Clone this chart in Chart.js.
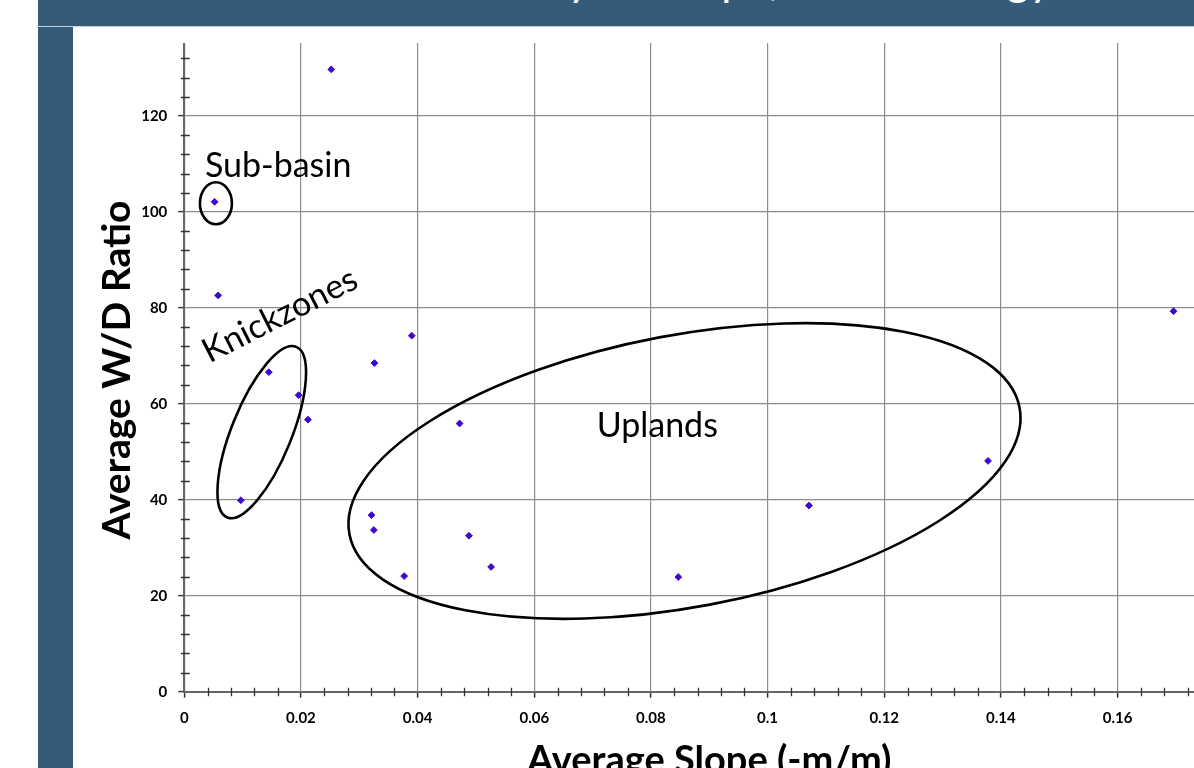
<!DOCTYPE html>
<html>
<head>
<meta charset="utf-8">
<script src="https://cdn.jsdelivr.net/npm/chart.js@4.4.1/dist/chart.umd.min.js"></script>
<style>
  html, body { margin: 0; padding: 0; background: #fff; overflow: hidden; width: 1194px; height: 768px; }
  #wrap { position: absolute; left: 0; top: 0; width: 1260px; height: 800px; }
  .blk { position: absolute; }
  #title { position: absolute; left: 38px; top: 0; width: 1156px; height: 26px; overflow: hidden; background: #345c78; border-bottom: 1px solid #c9d2da; }
  #title span { position: absolute; right: 142px; top: -48px; line-height: 1; white-space: nowrap; color: #fff; font: 44px Lato; }
</style>
</head>
<body>
<div id="wrap"><canvas id="c" width="1260" height="800"></canvas></div>
<div class="blk" style="left:0;top:0;width:38px;height:768px;background:#fff"></div>
<div class="blk" style="left:38px;top:0;width:35px;height:768px;background:#345c78"></div>
<div class="blk" style="left:73px;top:27px;width:1121px;height:16px;background:#fff"></div>
<div id="title"><span>Channel Geometry vs. Slope, and Lithology</span></div>
<script>
// scatter data
const slope = [0.0252, 0.0052, 0.0058, 0.0145, 0.0196, 0.0212, 0.0097, 0.0326, 0.0390, 0.0472,
               0.0321, 0.0325, 0.0377, 0.0488, 0.0526, 0.0847, 0.1071, 0.1378, 0.1696];
const wdRatio = [129.7, 102.1, 82.6, 66.6, 61.8, 56.7, 39.9, 68.5, 74.2, 55.9,
                 36.8, 33.7, 24.1, 32.5, 26.0, 23.9, 38.8, 48.1, 79.3];

const xTickLabels = ['0', '0.02', '0.04', '0.06', '0.08', '0.1', '0.12', '0.14', '0.16', '0.18'];
const yTickLabels = ['0', '20', '40', '60', '80', '100', '120', '140'];

const groupNames = ['Sub-basin', 'Knickzones', 'Uplands'];

// annotation placement (data units for anchors, pixels for radii)
const groupEllipses = [
  { x: 0.00542, y: 101.8, rx: 16, ry: 21, rot: 0 },
  { x: 0.01328, y: 54.1, rx: 92, ry: 30, rot: -68 },
  { x: 0.08576, y: 46.0, rx: 341, ry: 136, rot: -10.7 }
];
const groupLabels = [
  { x: 0.00354, y: 107.3, rot: 0 },
  { x: 0.00430, y: 68.4, rot: -27 },
  { x: 0.0707, y: 53.1, rot: 0 }
];

const annotations = {
  id: 'annotations',
  afterDraw(chart) {
    const { ctx, scales: { x, y } } = chart;
    const x0 = x.getPixelForValue(0);
    const y0 = y.getPixelForValue(0);
    ctx.save();

    // minor ticks crossing the axes
    ctx.strokeStyle = '#333';
    ctx.lineWidth = 1.3;
    ctx.beginPath();
    for (let i = 1; i * 0.004 < 0.18; i++) {
      if (i % 5 === 0) continue;
      const px = Math.round(x.getPixelForValue(i * 0.004)) + 0.5;
      ctx.moveTo(px, y0 - 4);
      ctx.lineTo(px, y0 + 4.5);
    }
    for (let i = 1; i * 4 < 140; i++) {
      if (i % 5 === 0) continue;
      const py = Math.round(y.getPixelForValue(i * 4)) + 0.5;
      ctx.moveTo(x0 - 3.5, py);
      ctx.lineTo(x0 + 5.5, py);
    }
    ctx.stroke();

    // group outlines
    ctx.strokeStyle = '#000';
    ctx.lineWidth = 2.6;
    groupEllipses.forEach(e => {
      ctx.beginPath();
      ctx.ellipse(x.getPixelForValue(e.x), y.getPixelForValue(e.y), e.rx, e.ry,
                  e.rot * Math.PI / 180, 0, Math.PI * 2);
      ctx.stroke();
    });

    // group names
    ctx.fillStyle = '#000';
    ctx.font = '34px Lato';
    ctx.textAlign = 'left';
    ctx.textBaseline = 'alphabetic';
    groupLabels.forEach((t, i) => {
      ctx.save();
      ctx.translate(x.getPixelForValue(t.x), y.getPixelForValue(t.y));
      ctx.rotate(t.rot * Math.PI / 180);
      ctx.fillText(groupNames[i], 0, 0);
      ctx.restore();
    });
    ctx.restore();
  }
};

Chart.defaults.font.family = 'Lato';
Chart.defaults.color = '#000';

new Chart(document.getElementById('c'), {
  type: 'scatter',
  data: {
    datasets: [{
      data: slope.map((v, i) => ({ x: v, y: wdRatio[i] })),
      pointStyle: 'rectRot',
      pointRadius: 3.4,
      pointBorderWidth: 1,
      backgroundColor: '#3f08cf',
      borderColor: '#3f08cf'
    }]
  },
  options: {
    responsive: false,
    animation: false,
    layout: { padding: { left: 0, top: 19.7, right: 22.7, bottom: 12.3 } },
    plugins: { legend: { display: false }, tooltip: { enabled: false } },
    scales: {
      x: {
        type: 'linear',
        min: 0,
        max: 0.18,
        afterFit: s => { s.height = 96; },
        ticks: {
          stepSize: 0.02,
          padding: 11,
          autoSkip: false,
          maxRotation: 0,
          font: { size: 15, weight: 'bold' },
          callback: (v, i) => xTickLabels[i]
        },
        grid: { color: '#8c8c8c', lineWidth: 1.2, tickLength: 6, tickColor: '#333', tickWidth: 1.5 },
        border: { color: '#666', width: 2 },
        title: {
          display: true,
          text: 'Average Slope (-m/m)',
          font: { size: 38, weight: 'bold' },
          padding: { top: 0, bottom: 4 }
        }
      },
      y: {
        type: 'linear',
        min: 0,
        max: 140,
        afterFit: s => { s.width = 184.3; },
        ticks: {
          stepSize: 20,
          padding: 11,
          font: { size: 15, weight: 'bold' },
          callback: (v, i) => yTickLabels[i]
        },
        grid: { color: '#8c8c8c', lineWidth: 1.2, tickLength: 6, tickColor: '#333', tickWidth: 1.5 },
        border: { color: '#666', width: 2 },
        title: {
          display: true,
          text: 'Average W/D Ratio   ',
          font: { size: 39, weight: 'bold' },
          padding: { top: 94, bottom: 0 }
        }
      }
    }
  },
  plugins: [annotations]
});
</script>
</body>
</html>
